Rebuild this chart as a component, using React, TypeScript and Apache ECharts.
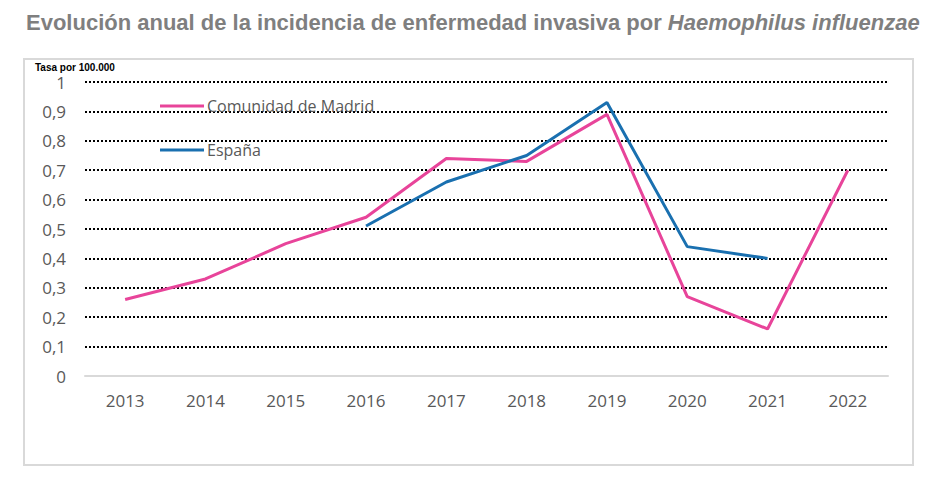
import React, { useEffect, useRef } from "react";
import * as echarts from "echarts";

const years = ["2013", "2014", "2015", "2016", "2017", "2018", "2019", "2020", "2021", "2022"];
const madrid = [0.26, 0.33, 0.45, 0.54, 0.74, 0.73, 0.89, 0.27, 0.16, 0.70];
const espana = [null, null, null, 0.51, 0.66, 0.75, 0.93, 0.44, 0.40, null];
const seriesNames = ["Comunidad de Madrid", "España"];

export default function App() {
  const ref = useRef<HTMLDivElement>(null);
  useEffect(() => {
    if (!ref.current) return;
    const chart = echarts.init(ref.current, null, { renderer: "svg" });
    chart.setOption({
      animation: false,
      backgroundColor: "#ffffff",
      graphic: [
        {
          type: "rect",
          shape: { x: 24, y: 59, width: 889, height: 406 },
          style: { fill: "none", stroke: "#d9d9d9", lineWidth: 2 },
          z: -1,
        },
        {
          type: "text",
          x: 26,
          y: 22,
          style: {
            text: "{n|Evolución anual de la incidencia de enfermedad invasiva por }{i|Haemophilus influenzae}",
            verticalAlign: "middle",
            rich: {
              n: { fontFamily: "Liberation Sans, Arial", fontWeight: "bold", fontSize: 22, fill: "#7f7f7f" },
              i: { fontFamily: "Liberation Sans, Arial", fontWeight: "bold", fontStyle: "italic", fontSize: 22, fill: "#7f7f7f" },
            },
          },
        },
        {
          type: "text",
          x: 35,
          y: 67,
          style: {
            text: "Tasa por 100.000",
            verticalAlign: "middle",
            fontFamily: "Liberation Sans, Arial",
            fontWeight: "bold",
            fontSize: 10,
            fill: "#000000",
          },
        },
      ],
      legend: {
        orient: "vertical",
        left: 160,
        top: 98,
        padding: 0,
        itemGap: 28,
        itemWidth: 44,
        itemHeight: 3,
        icon: "rect",
        data: seriesNames,
        textStyle: { fontFamily: "Open Sans", fontSize: 16, color: "#595959", padding: [0, 0, 0, -2] },
      },
      grid: { left: 85, right: 52, top: 82, bottom: 114 },
      xAxis: {
        type: "category",
        data: years,
        boundaryGap: true,
        axisLine: { lineStyle: { color: "#d9d9d9", width: 2 } },
        axisTick: { show: false },
        axisLabel: { fontFamily: "Open Sans", fontSize: 17, color: "#595959", margin: 16 },
      },
      yAxis: {
        type: "value",
        min: 0,
        max: 1,
        interval: 0.1,
        axisLine: { show: false },
        axisTick: { show: false },
        axisLabel: {
          fontFamily: "Open Sans",
          fontSize: 17,
          color: "#595959",
          margin: 19,
          formatter: (v: number) => (Math.round(v * 10) / 10).toString().replace(".", ","),
        },
        splitLine: { showMinLine: false, lineStyle: { color: "#000000", width: 2, type: [2, 2] } },
      },
      series: [
        {
          name: seriesNames[0],
          type: "line",
          data: madrid,
          symbol: "none",
          lineStyle: { color: "#e8449a", width: 3 },
          itemStyle: { color: "#e8449a" },
        },
        {
          name: seriesNames[1],
          type: "line",
          data: espana,
          symbol: "none",
          connectNulls: false,
          lineStyle: { color: "#1a70b0", width: 3 },
          itemStyle: { color: "#1a70b0" },
        },
      ],
    });
    return () => chart.dispose();
  }, []);
  return <div ref={ref} style={{ position: "fixed", left: 0, top: 0, width: 940, height: 490 }} />;
}
